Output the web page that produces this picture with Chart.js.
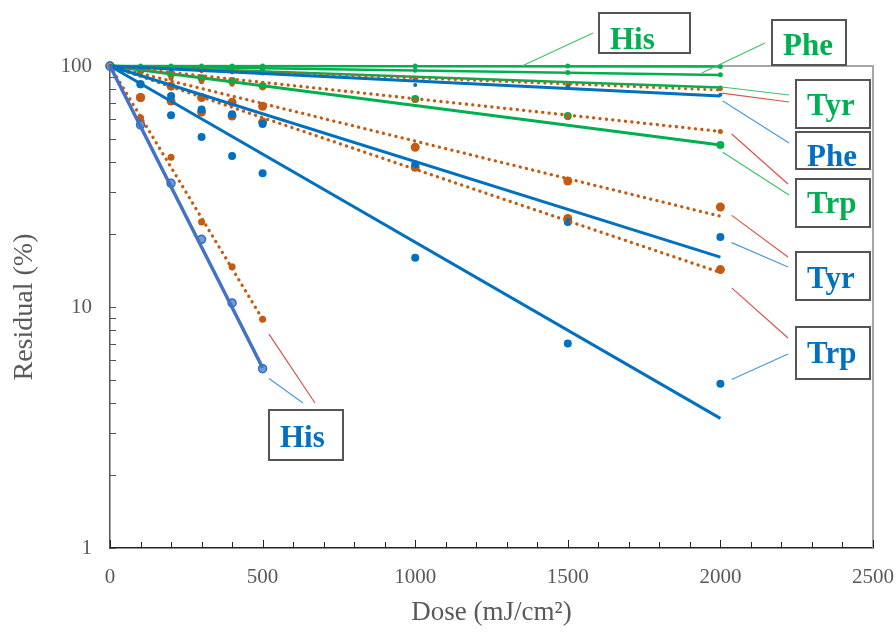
<!DOCTYPE html>
<html>
<head>
<meta charset="utf-8">
<script src="https://cdn.jsdelivr.net/npm/chart.js@4/dist/chart.umd.min.js"></script>
<style>
  html, body { margin: 0; padding: 0; background: #fff; }
</style>
</head>
<body>
<canvas id="doseChart" width="896" height="633"></canvas>
<script>
// doses (mJ/cm2)
const doses = [0, 100, 200, 300, 400, 500, 1000, 1500, 2000];
const hisDoses = [0, 100, 200, 300, 400, 500];

const greenHis = [100, 100, 100, 100, 100, 100, 100, 100, 99.5];
const greenPhe = [100, 99, 99, 98, 98, 97, 96, 94, 92];
const greenTyr = [100, 99, 98, 97, 96, 95, 89, 83, 81];
const greenTrp = [100, 96, 92.6, 89, 86.6, 82.6, 73, 62, 47];

const bluePhe = [100, 98, 97, 96, 95, 94, 83.4, 82, 76];
const blueTyr = [100, 84, 75, 66, 63, 57.4, 39, 22.5, 19.5];
const blueTrp = [100, 84, 62.5, 50.7, 42.3, 35.9, 16, 7.05, 4.8];
const blueHis = [100, 57, 32.6, 19.1, 10.4, 5.55];

const orangePhe = [100, 98, 96, 95, 94, 93, 88, 84, 80];
const orangeTrpA = [100, 93, 89, 86, 84, 81, 72, 61, 53.5];
const orangeTyr = [100, 74, 82.5, 74, 70.8, 68, 46, 33.3, 26];
const orangeTrp = [100, 74, 71.5, 64.4, 62, 58.5, 38, 23.3, 14.3];
const orangeHis = [100, 61, 41.8, 22.5, 14.7, 8.9];

// fitted lines: value at start and end dose
const fitDoses = [0, 2000];
const hisFitDoses = [0, 500];
const greenHisFit = [100, 99.5];
const greenPheFit = [100, 91.7];
const greenTyrFit = [100, 81.5];
const greenTrpFit = [100, 47];
const bluePheFit = [100, 75];
const blueTyrFit = [100, 16.1];
const blueTrpFit = [100, 3.45];
const blueHisFit = [100, 5.6];
const orangePheFit = [100, 79.5];
const orangeTrpAFit = [100, 53.5];
const orangeTyrFit = [100, 23.8];
const orangeTrpFit = [100, 13.9];
const orangeHisFit = [100, 8.9];

// axis ticks
const yTickValues = [1, 2, 3, 4, 5, 6, 7, 8, 9, 10, 20, 30, 40, 50, 60, 70, 80, 90, 100];
const yTickLabels = [1, 10, 100];

const green = "#00B050";
const blue = "#0070C0";
const hisBlue = "#4472C4";
const orange = "#C55A11";

function toPts(xs, ys) {
  return ys.map(function (v, i) { return { x: xs[i], y: v }; });
}

function pointSet(xs, ys, color, r) {
  return {
    data: toPts(xs, ys), showLine: false, clip: false,
    pointRadius: r, pointBackgroundColor: color, pointBorderColor: color, pointBorderWidth: 0
  };
}

function fitSet(xs, ys, color, w, dotted) {
  let ds = {
    data: toPts(xs, ys), showLine: true, clip: false, pointRadius: 0,
    borderColor: color, borderWidth: w, fill: false
  };
  if (dotted) {
    ds.borderDash = [0.1, 6.3];
    ds.borderCapStyle = "round";
  }
  return ds;
}

let datasets = [
  fitSet(hisFitDoses, blueHisFit, hisBlue, 3.5, false),
  fitSet(fitDoses, blueTrpFit, blue, 3, false),
  fitSet(fitDoses, blueTyrFit, blue, 3, false),
  fitSet(fitDoses, bluePheFit, blue, 3, false),
  fitSet(hisFitDoses, orangeHisFit, orange, 3.3, true),
  fitSet(fitDoses, orangeTrpFit, orange, 3.3, true),
  fitSet(fitDoses, orangeTyrFit, orange, 3.3, true),
  fitSet(fitDoses, orangeTrpAFit, orange, 3.3, true),
  fitSet(fitDoses, orangePheFit, orange, 3, true),
  fitSet(fitDoses, greenTrpFit, green, 3, false),
  fitSet(fitDoses, greenTyrFit, green, 2.5, false),
  fitSet(fitDoses, greenPheFit, green, 2.5, false),
  fitSet(fitDoses, greenHisFit, green, 2.5, false),
  pointSet(hisDoses, blueHis, "#6f9bd6", 4),
  pointSet(hisDoses, orangeHis, orange, 3.5),
  pointSet(doses, blueTrp, blue, 4),
  pointSet(doses, blueTyr, blue, 4),
  pointSet(doses, bluePhe, blue, 2),
  pointSet(doses, orangeTrp, orange, 4.5),
  pointSet(doses, orangeTyr, orange, 4.5),
  pointSet(doses, orangeTrpA, orange, 2.5),
  pointSet(doses, orangePhe, orange, 2),
  pointSet(doses, greenTrp, green, 4),
  pointSet(doses, greenTyr, green, 2.5),
  pointSet(doses, greenPhe, green, 2.5),
  pointSet(doses, greenHis, green, 2.5)
];
// blue His points look like rings
datasets[13].pointBorderColor = "#2f6fc0";
datasets[13].pointBorderWidth = 1.5;

// label boxes, placed around the plot like in the original figure
const labelBoxes = [
  { text: "His", color: green, x: 599, y: 13, w: 91, h: 40, base: 49 },
  { text: "Phe", color: green, x: 772, y: 20, w: 74, h: 45, base: 55 },
  { text: "Tyr", color: green, x: 796, y: 80, w: 74, h: 48, base: 115 },
  { text: "Phe", color: blue, x: 796, y: 132, w: 74, h: 37, base: 166 },
  { text: "Trp", color: green, x: 796, y: 179, w: 74, h: 48, base: 213 },
  { text: "Tyr", color: blue, x: 796, y: 252, w: 74, h: 48, base: 288 },
  { text: "Trp", color: blue, x: 796, y: 327, w: 74, h: 52, base: 363 },
  { text: "His", color: blue, x: 269, y: 410, w: 74, h: 50, base: 447 }
];

// leader lines: start at a (dose, %) spot, end at the box edge (pixels)
const leaders = [
  { from: [1350, 100], to: [593, 33], color: "#3cc46a" },
  { from: [1939, 93.5], to: [765, 43], color: "#3cc46a" },
  { from: [2005, 81.8], to: [789, 95], color: "#3cc46a" },
  { from: [2005, 77.2], to: [789, 102], color: "#d9534f" },
  { from: [2008, 71.5], to: [789, 143], color: "#4a9ad8" },
  { from: [2037, 52.2], to: [788, 184], color: "#d9534f" },
  { from: [2008, 43.9], to: [789, 195], color: "#3cc46a" },
  { from: [2037, 24], to: [788, 257], color: "#d9534f" },
  { from: [2037, 18.5], to: [788, 267], color: "#4a9ad8" },
  { from: [2037, 12], to: [788, 338], color: "#d9534f" },
  { from: [2037, 5.0], to: [788, 354], color: "#4a9ad8" },
  { from: [521, 7.72], to: [315, 403], color: "#d9534f" },
  { from: [521, 5.05], to: [303, 403], color: "#4a9ad8" }
];

// frame, inside tick marks
const framePlugin = {
  id: "frame",
  beforeDatasetsDraw(chart) {
    let ctx = chart.ctx;
    let a = chart.chartArea;
    let xs = chart.scales.x;
    let ys = chart.scales.y;
    ctx.save();
    ctx.strokeStyle = "#a6a6a6";
    ctx.lineWidth = 2;
    ctx.beginPath();
    ctx.moveTo(a.left, a.top);
    ctx.lineTo(a.right, a.top);
    ctx.lineTo(a.right, a.bottom);
    ctx.stroke();
    ctx.lineWidth = 1;
    ctx.strokeStyle = "#555";
    ys.ticks.forEach(function (t) {
      let y = Math.round(ys.getPixelForValue(t.value)) + 0.5;
      ctx.beginPath();
      ctx.moveTo(a.left, y);
      ctx.lineTo(a.left + 6, y);
      ctx.stroke();
    });
    ctx.strokeStyle = "#222";
    xs.ticks.forEach(function (t) {
      let x = Math.round(xs.getPixelForValue(t.value)) + 0.5;
      let len = t.value % 500 === 0 ? 8 : 6;
      ctx.beginPath();
      ctx.moveTo(x, a.bottom);
      ctx.lineTo(x, a.bottom - len);
      ctx.stroke();
    });
    ctx.restore();
  },
  afterDraw(chart) {
    let ctx = chart.ctx;
    let xs = chart.scales.x;
    let ys = chart.scales.y;
    ctx.save();
    ctx.lineWidth = 1.2;
    leaders.forEach(function (l) {
      ctx.strokeStyle = l.color;
      ctx.beginPath();
      ctx.moveTo(xs.getPixelForValue(l.from[0]), ys.getPixelForValue(l.from[1]));
      ctx.lineTo(l.to[0], l.to[1]);
      ctx.stroke();
    });
    labelBoxes.forEach(function (b) {
      ctx.fillStyle = "#fff";
      ctx.fillRect(b.x, b.y, b.w, b.h);
      ctx.strokeStyle = "#555";
      ctx.lineWidth = 2;
      ctx.strokeRect(b.x, b.y, b.w, b.h);
      ctx.fillStyle = b.color;
      ctx.font = "bold 31px 'Liberation Serif', serif";
      ctx.textAlign = "left";
      ctx.textBaseline = "alphabetic";
      ctx.fillText(b.text, b.x + 11, b.base);
    });
    ctx.restore();
  }
};

let ctx = document.getElementById("doseChart").getContext("2d");
let chart = new Chart(ctx, {
  type: "scatter",
  data: { datasets: datasets },
  plugins: [framePlugin],
  options: {
    responsive: false,
    animation: false,
    layout: { padding: { top: 66, right: 23, left: 0, bottom: 0 } },
    plugins: {
      legend: { display: false },
      tooltip: { enabled: false }
    },
    elements: { line: { tension: 0 } },
    scales: {
      x: {
        type: "linear",
        min: 0,
        max: 2500,
        afterFit: function (s) {
          s.height = 85;
          s.paddingLeft = 0;
          s.paddingRight = 0;
        },
        grid: { display: false, drawTicks: false },
        border: { display: true, color: "#222", width: 1.5 },
        ticks: {
          stepSize: 100,
          autoSkip: false,
          maxRotation: 0,
          padding: 17,
          color: "#595959",
          font: { family: "'Liberation Serif', serif", size: 21 },
          callback: function (v) { return v % 500 === 0 ? String(v) : ""; }
        },
        title: {
          display: true,
          text: "Dose (mJ/cm²)",
          color: "#595959",
          font: { family: "'Liberation Serif', serif", size: 27 },
          padding: { top: 2 }
        }
      },
      y: {
        type: "logarithmic",
        min: 1,
        max: 100,
        afterFit: function (s) {
          s.width = 110;
          s.paddingTop = 0;
          s.paddingBottom = 0;
        },
        afterBuildTicks: function (s) {
          s.ticks = yTickValues.map(function (v) { return { value: v }; });
        },
        grid: { display: false, drawTicks: false },
        border: { display: true, color: "#555", width: 1.5 },
        ticks: {
          autoSkip: false,
          padding: 18,
          color: "#595959",
          font: { family: "'Liberation Serif', serif", size: 21 },
          callback: function (v) { return yTickLabels.indexOf(v) >= 0 ? String(v) : ""; }
        },
        title: {
          display: true,
          text: "Residual (%)",
          color: "#595959",
          font: { family: "'Liberation Serif', serif", size: 28 },
          padding: { top: 8 }
        }
      }
    }
  }
});
</script>
</body>
</html>
